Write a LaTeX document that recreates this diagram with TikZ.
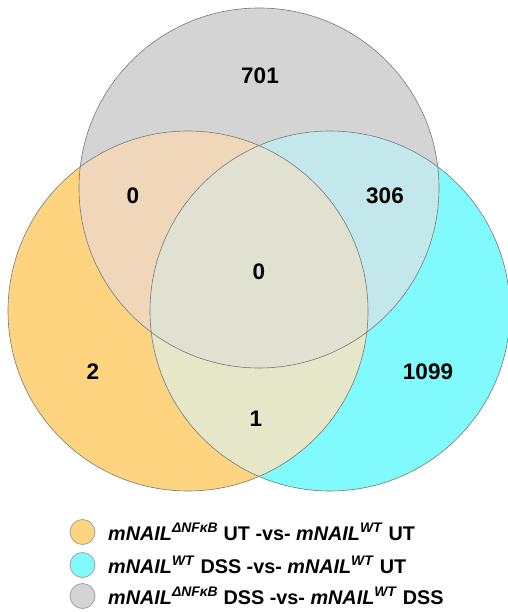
\documentclass[tikz,border=0pt]{standalone}
\usepackage{fontspec}
\setmainfont{Liberation Sans}
\definecolor{setA}{RGB}{255,212,128}
\definecolor{setB}{RGB}{128,250,252}
\definecolor{setC}{RGB}{212,212,212}
\definecolor{setAB}{RGB}{230,230,200}
\definecolor{setAC}{RGB}{240,215,185}
\definecolor{setBC}{RGB}{195,232,235}
\definecolor{setABC}{RGB}{225,225,210}
\definecolor{edge}{RGB}{120,120,120}
\tikzset{
  count/.style={font=\fontsize{22.5}{24}\selectfont\bfseries, inner sep=0pt},
  legdot/.style={circle, draw=edge!70, line width=0.8pt, minimum size=25pt, inner sep=0pt},
  legtext/.style={font=\fontsize{19.8}{21}\selectfont\bfseries, anchor=west, inner sep=0pt},
  rim/.style={draw=edge, line width=0.6pt}
}
\newcommand{\nail}[1]{\textit{mNAIL}\textsuperscript{\textit{#1}}}
\begin{document}
\begin{tikzpicture}[x=1pt,y=-1pt]
\useasboundingbox (0,0) rectangle (507,612);
\coordinate (A) at (188,311);
\coordinate (B) at (330,311);
\coordinate (C) at (259,188);
\def\rad{180pt}
% single sets
\fill[setA] (A) circle (\rad);
\fill[setB] (B) circle (\rad);
\fill[setC] (C) circle (\rad);
% pairwise overlaps
\begin{scope}\clip (A) circle (\rad); \fill[setAB] (B) circle (\rad); \end{scope}
\begin{scope}\clip (A) circle (\rad); \fill[setAC] (C) circle (\rad); \end{scope}
\begin{scope}\clip (B) circle (\rad); \fill[setBC] (C) circle (\rad); \end{scope}
% triple overlap
\begin{scope}\clip (A) circle (\rad); \clip (B) circle (\rad); \fill[setABC] (C) circle (\rad); \end{scope}
% outlines
\draw[rim] (A) circle (\rad);
\draw[rim] (B) circle (\rad);
\draw[rim] (C) circle (\rad);
% region counts
\node[count] (nC) at (260,76) {701};
\node[count] (nAC) at (133,196) {0};
\node[count] (nBC) at (385,196) {306};
\node[count] (nABC) at (259,272) {0};
\node[count] (nA) at (93,372) {2};
\node[count] (nB) at (428,372) {1099};
\node[count] (nAB) at (256,419) {1};
% legend
\node[legdot, fill=setA] (dA) at (82.5,532) {};
\node[legdot, fill=setB] (dB) at (82.5,565) {};
\node[legdot, fill=setC] (dC) at (82.5,596) {};
\node[legtext] (tA) at (108,532) {\nail{ΔNFκB} UT -vs- \nail{WT} UT};
\node[legtext] (tB) at (108,565) {\nail{WT} DSS -vs- \nail{WT} UT};
\node[legtext] (tC) at (108,596) {\nail{ΔNFκB} DSS -vs- \nail{WT} DSS};
\end{tikzpicture}
\end{document}
